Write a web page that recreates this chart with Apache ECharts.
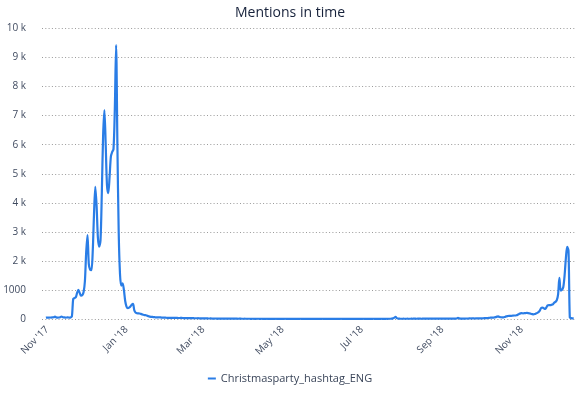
<!DOCTYPE html>
<html>
<head>
<meta charset="utf-8">
<script src="https://cdn.jsdelivr.net/npm/echarts@6/dist/echarts.min.js"></script>
<style>
html,body{margin:0;padding:0;background:#fff;}
#chart{width:580px;height:396px;}
</style>
</head>
<body>
<div id="chart"></div>
<script>
// ---- data ----
const titleText = 'Mentions in time';
const seriesName = 'Christmasparty_hashtag_ENG';
// axis runs daily from this date; first data day is 2017-10-31
const axisStart = '2017-10-28';
const axisDays = 412;
const dataStart = '2017-10-31';
// daily mention counts from 2017-10-31 to 2018-12-11
const mentions = [
  45, 50, 48, 52, 50, 55, 60, 80, 55, 50,
  52, 60, 85, 60, 55, 50, 52, 55, 50, 55,
  90, 690, 720, 750, 900, 1000, 900, 800, 820, 930,
  1300, 2300, 2890, 1900, 1700, 1680, 2300, 3600, 4550, 3900,
  2800, 2490, 2700, 4300, 6300, 7190, 6000, 4600, 4330, 4900,
  5600, 5750, 5850, 7200, 9430, 6000, 3000, 1550, 1150, 1230,
  1000, 620, 430, 370, 390, 430, 490, 520, 300, 220,
  200, 195, 190, 175, 160, 145, 135, 130, 110, 95,
  80, 75, 70, 65, 60, 55, 55, 60, 55, 50,
  48, 45, 45, 42, 40, 40, 38, 36, 40, 36,
  38, 36, 35, 35, 40, 34, 32, 30, 30, 32,
  30, 28, 28, 30, 26, 25, 25, 28, 24, 22,
  22, 24, 20, 20, 22, 18, 18, 20, 16, 16,
  18, 15, 15, 16, 14, 14, 15, 12, 12, 14,
  12, 12, 10, 12, 10, 10, 12, 10, 9, 10,
  10, 9, 8, 10, 8, 8, 9, 8, 7, 8,
  8, 7, 8, 9, 7, 6, 8, 7, 6, 7,
  8, 6, 7, 6, 5, 7, 6, 8, 6, 5,
  6, 7, 5, 6, 8, 6, 5, 6, 7, 5,
  6, 5, 7, 6, 5, 6, 8, 6, 5, 6,
  7, 5, 6, 5, 6, 7, 5, 6, 5, 7,
  6, 5, 6, 8, 5, 6, 5, 6, 7, 5,
  6, 5, 7, 6, 5, 6, 5, 8, 6, 5,
  6, 7, 5, 6, 5, 6, 7, 5, 6, 5,
  7, 6, 5, 6, 8, 6, 5, 6, 7, 6,
  5, 6, 8, 6, 5, 7, 6, 5, 8, 6,
  7, 6, 8, 7, 9, 8, 12, 22, 45, 70,
  30, 14, 10, 9, 8, 10, 9, 8, 10, 9,
  8, 10, 9, 11, 10, 9, 10, 12, 10, 9,
  11, 10, 12, 10, 11, 13, 10, 12, 11, 10,
  12, 11, 13, 12, 10, 14, 12, 11, 13, 12,
  14, 12, 13, 15, 12, 14, 18, 40, 20, 14,
  15, 16, 14, 18, 16, 17, 20, 18, 22, 20,
  18, 22, 25, 20, 24, 26, 22, 28, 30, 32,
  35, 40, 45, 50, 45, 55, 65, 80, 90, 70,
  60, 55, 55, 70, 90, 100, 105, 110, 110, 115,
  120, 120, 130, 150, 175, 195, 200, 195, 200, 205,
  210, 205, 195, 180, 170, 160, 170, 190, 210, 240,
  300, 380, 390, 370, 345, 400, 470, 480, 480, 490,
  505, 560, 590, 650, 850, 1420, 980, 1000, 1100, 1500,
  2100, 2480, 2350, 50, 30, 20, 20
];
const xTickDates = ['2017-11-01','2018-01-01','2018-03-01','2018-05-01','2018-07-01','2018-09-01','2018-11-01'];
const xTickLabels = ["Nov '17","Jan '18","Mar '18","May '18","Jul '18","Sep '18","Nov '18"];
const yTickValues = [0,1000,2000,3000,4000,5000,6000,7000,8000,9000,10000];
const yTickLabels = ['0','1000','2 k','3 k','4 k','5 k','6 k','7 k','8 k','9 k','10 k'];

// ---- build ----
const DAY = 86400000;
const t0 = Date.parse(axisStart + 'T00:00:00Z');
const categories = [];
for (let i = 0; i < axisDays; i++) {
  categories.push(new Date(t0 + i * DAY).toISOString().slice(0, 10));
}
const startIdx = categories.indexOf(dataStart);
const seriesData = categories.map((c, i) => {
  const k = i - startIdx;
  return (k >= 0 && k < mentions.length) ? mentions[k] : null;
});

const FONT = '"Open Sans", "Noto Sans", sans-serif';
const chart = echarts.init(document.getElementById('chart'), null, {renderer: 'canvas'});
chart.setOption({
  animation: false,
  backgroundColor: '#ffffff',
  title: {
    text: titleText,
    left: 'center',
    top: 1,
    textStyle: {fontFamily: FONT, fontSize: 14, fontWeight: 'normal', color: '#16213a'}
  },
  legend: {
    data: [seriesName],
    bottom: 7,
    left: 'center',
    icon: 'rect',
    itemWidth: 8,
    itemHeight: 2,
    itemGap: 10,
    textStyle: {fontFamily: FONT, fontSize: 11, color: '#3a4559'}
  },
  grid: {left: 42, right: 3.7, top: 28.5, bottom: 77, containLabel: false},
  xAxis: {
    type: 'category',
    data: categories,
    boundaryGap: false,
    axisLine: {show: false},
    axisTick: {show: false},
    splitLine: {show: false},
    axisLabel: {
      rotate: 45,
      margin: 9,
      fontFamily: FONT,
      fontSize: 10,
      color: '#404b60',
      interval: (idx, val) => xTickDates.indexOf(val) >= 0,
      formatter: (val) => {
        const j = xTickDates.indexOf(val);
        return j >= 0 ? xTickLabels[j] : '';
      }
    }
  },
  yAxis: {
    type: 'value',
    min: 0,
    max: 10000,
    interval: 1000,
    axisLine: {show: false},
    axisTick: {show: false},
    axisLabel: {
      margin: 16,
      fontFamily: FONT,
      fontSize: 10,
      color: '#404b60',
      formatter: (v) => {
        const j = yTickValues.indexOf(v);
        return j >= 0 ? yTickLabels[j] : '';
      }
    },
    splitLine: {
      show: true,
      lineStyle: {color: '#9a9a9a', width: 1, type: [1, 2.3]}
    }
  },
  series: [{
    name: seriesName,
    type: 'line',
    data: seriesData,
    showSymbol: false,
    smooth: 0.3,
    connectNulls: false,
    lineStyle: {color: '#2a7de6', width: 2.2},
    itemStyle: {color: '#2a7de6'}
  }]
});
</script>
</body>
</html>
